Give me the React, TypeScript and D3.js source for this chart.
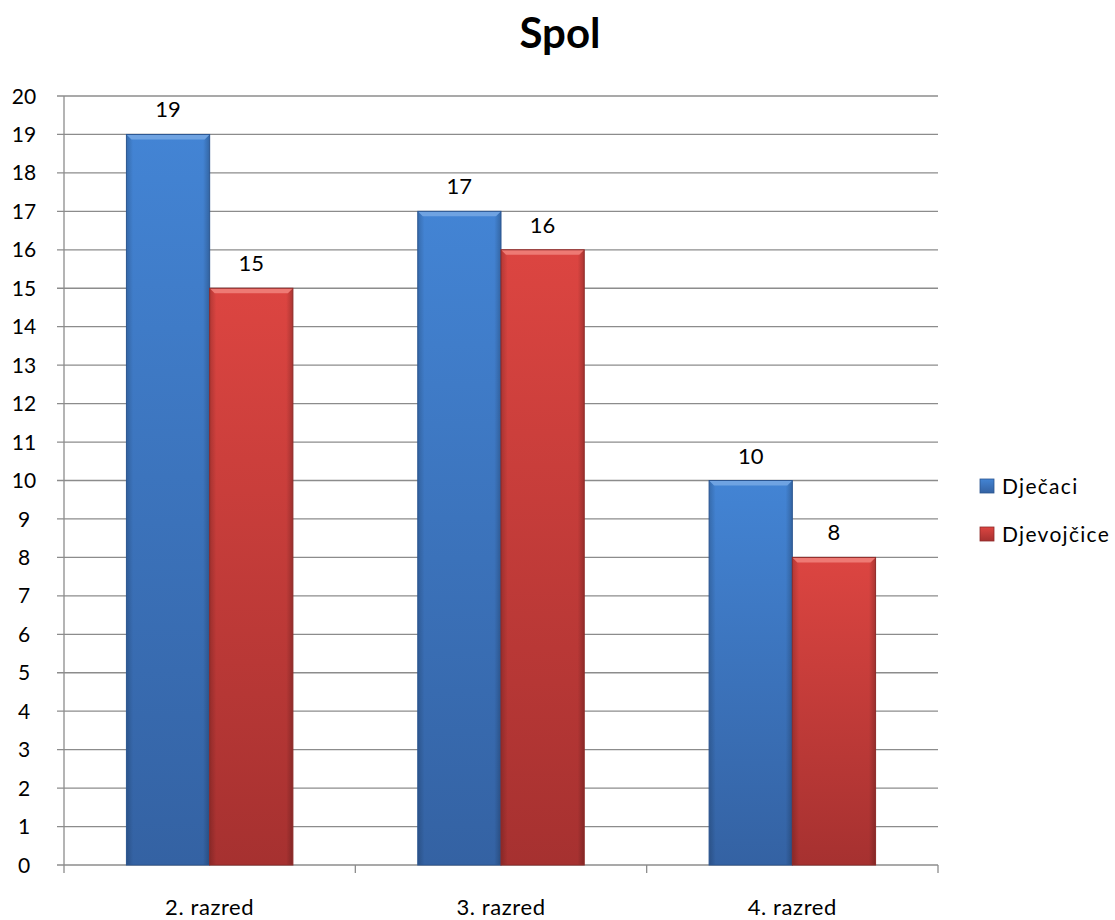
import React from "react";
import * as d3 from "d3";

const categories = ["2. razred", "3. razred", "4. razred"];
const seriesNames = ["Dječaci", "Djevojčice"];
const boys = [19, 17, 10];
const girls = [15, 16, 8];
const yTicks = d3.range(0, 21);

const W = 1115;
const H = 920;
const margin = { left: 64, right: 177, top: 96, bottom: 55 };
const FONT = "Lato, 'Open Sans', sans-serif";

export default function App() {
  const x = d3
    .scaleBand<string>()
    .domain(categories)
    .range([margin.left, W - margin.right])
    .paddingInner(0)
    .paddingOuter(0);
  const y = d3.scaleLinear().domain([0, 20]).range([H - margin.bottom, margin.top]);
  const groupW = x.bandwidth();
  const inner = d3
    .scaleBand<string>()
    .domain(seriesNames)
    .range([0, groupW])
    .paddingInner(0)
    .paddingOuter(0.75);
  const values = [boys, girls];
  const grads = ["gBlue", "gRed"];
  const edgeDark = ["#2b5590", "#8e2a28"];
  const topLight = ["#6fa3e2", "#ee7a74"];
  const x0 = margin.left;
  const x1 = W - margin.right;

  return (
    <svg
      width={W}
      height={H}
      style={{ position: "absolute", left: 0, top: 0, background: "#fff" }}
      fontFamily={FONT}
    >
      <defs>
        <linearGradient id="gBlue" x1="0" y1="0" x2="0" y2="1">
          <stop offset="0" stopColor="#4384d4" />
          <stop offset="1" stopColor="#3462a3" />
        </linearGradient>
        <linearGradient id="gRed" x1="0" y1="0" x2="0" y2="1">
          <stop offset="0" stopColor="#dc4541" />
          <stop offset="1" stopColor="#a63130" />
        </linearGradient>
        <linearGradient id="sideShade" x1="0" y1="0" x2="1" y2="0">
          <stop offset="0" stopColor="#000" stopOpacity="0.18" />
          <stop offset="0.08" stopColor="#000" stopOpacity="0" />
          <stop offset="0.92" stopColor="#000" stopOpacity="0" />
          <stop offset="1" stopColor="#000" stopOpacity="0.22" />
        </linearGradient>
      </defs>
      <text x={560} y={48} textAnchor="middle" fontSize={42} fontWeight="bold" fill="#000">
        Spol
      </text>
      {yTicks.map((t) => (
        <g key={t}>
          <line x1={x0 - 7} x2={x1} y1={y(t)} y2={y(t)} stroke="#8c8c8c" strokeWidth={1.3} />
          <text x={x0 - 40} y={y(t)} dy="0.36em" textAnchor="middle" fontSize={21} fill="#000">
            {t}
          </text>
        </g>
      ))}
      <line x1={x0} x2={x0} y1={y(20)} y2={y(0)} stroke="#8c8c8c" strokeWidth={1.3} />
      {[...categories.map((c) => x(c)!), x1].map((px, i) => (
        <line key={i} x1={px} x2={px} y1={y(0)} y2={y(0) + 8} stroke="#8c8c8c" strokeWidth={1.3} />
      ))}
      {categories.map((c) => (
        <text
          key={c}
          x={x(c)! + groupW / 2}
          y={915}
          textAnchor="middle"
          fontSize={22}
          letterSpacing={0.6}
          fill="#000"
        >
          {c}
        </text>
      ))}
      {categories.map((c, ci) =>
        seriesNames.map((s, si) => {
          const v = values[si][ci];
          const bx = x(c)! + inner(s)!;
          const bw = inner.bandwidth();
          const by = y(v);
          const bh = y(0) - by;
          const bev = 5;
          return (
            <g key={c + s}>
              <rect x={bx} y={by} width={bw} height={bh} fill={`url(#${grads[si]})`} />
              <rect x={bx} y={by} width={bw} height={bh} fill="url(#sideShade)" />
              <path
                d={`M${bx},${by} L${bx + bw},${by} L${bx + bw - bev},${by + bev} L${bx + bev},${by + bev} Z`}
                fill={topLight[si]}
              />
              <rect x={bx} y={by} width={bw} height={bh} fill="none" stroke={edgeDark[si]} strokeWidth={1} />
              <text x={bx + bw / 2} y={by - 17} textAnchor="middle" fontSize={22} fill="#000">
                {v}
              </text>
            </g>
          );
        })
      )}
      {seriesNames.map((s, si) => (
        <g key={s} transform={`translate(980, ${486 + si * 48})`}>
          <rect x={0} y={-7} width={14} height={14} fill={`url(#${grads[si]})`} stroke={edgeDark[si]} strokeWidth={0.8} />
          <text x={22} y={8} fontSize={21} letterSpacing={1.3} fill="#000">
            {s}
          </text>
        </g>
      ))}
    </svg>
  );
}
